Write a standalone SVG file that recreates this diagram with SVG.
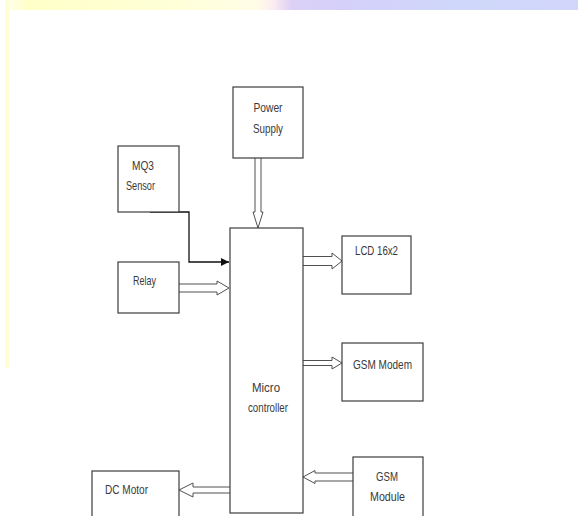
<svg xmlns="http://www.w3.org/2000/svg" width="578" height="516" viewBox="0 0 578 516">
<defs>
<linearGradient id="topbar" x1="0" y1="0" x2="1" y2="0">
<stop offset="0" stop-color="#fffff0"/>
<stop offset="0.04" stop-color="#ffffc8"/>
<stop offset="0.3" stop-color="#ffffd8"/>
<stop offset="0.44" stop-color="#fffde6"/>
<stop offset="0.47" stop-color="#fbeaf0"/>
<stop offset="0.5" stop-color="#dcd0f6"/>
<stop offset="0.6" stop-color="#d4d0fa"/>
<stop offset="0.8" stop-color="#cfd8fa"/>
<stop offset="1" stop-color="#d2d6fa"/>
</linearGradient>
<marker id="solid" viewBox="0 0 10 10" refX="10" refY="5" markerWidth="8" markerHeight="8" markerUnits="userSpaceOnUse" orient="auto">
<path d="M0,0 L10,5 L0,10 Z" fill="#111"/>
</marker>
</defs>
<style>
.box{fill:#fff;stroke:#3c3c3c;stroke-width:1.2}
.lbl{font-family:"Liberation Sans Narrow","Liberation Sans",Arial,sans-serif;font-size:13px;fill:#3a3a3a;text-anchor:middle}
.ha{fill:#fff;stroke:#505050;stroke-width:1}
.ln{fill:none;stroke:#111;stroke-width:1.3}
</style>
<rect width="578" height="516" fill="#fff"/>
<rect x="5" y="0" width="573" height="10" fill="url(#topbar)"/>
<rect x="5" y="0" width="4" height="368" fill="#ffffd6"/>

<g id="connectors">
<path class="ha" d="M255,158 L255,212 L253,212 L258,228 L263,212 L261,212 L261,158"/>
<polyline class="ln" points="150,212 189,212 189,262 229,262" marker-end="url(#solid)"/>
<path class="ha" d="M179,284 L217,284 L217,281 L229,288 L217,295 L217,292 L179,292"/>
<path class="ha" d="M303,256.5 L332,256.5 L332,253 L342,261 L332,269 L332,265.5 L303,265.5"/>
<path class="ha" d="M303,360.5 L332,360.5 L332,357 L342,363 L332,369 L332,365.5 L303,365.5"/>
<path class="ha" d="M353,473 L315,473 L315,470.5 L303,477 L315,483.5 L315,481 L353,481"/>
<path class="ha" d="M230,487 L193,487 L193,483 L179,490 L193,497 L193,493 L230,493"/>
</g>

<g id="power-supply">
<rect class="box" x="233" y="87" width="70" height="71"/>
<text class="lbl" x="268" y="112" textLength="29" lengthAdjust="spacingAndGlyphs">Power</text>
<text class="lbl" x="268" y="133" textLength="30" lengthAdjust="spacingAndGlyphs">Supply</text>
</g>
<g id="mq3-sensor">
<rect class="box" x="118" y="146" width="61" height="66"/>
<text class="lbl" x="143" y="170" textLength="22" lengthAdjust="spacingAndGlyphs">MQ3</text>
<text class="lbl" x="140.5" y="190" textLength="29" lengthAdjust="spacingAndGlyphs">Sensor</text>
</g>
<g id="relay">
<rect class="box" x="118" y="262" width="61" height="51"/>
<text class="lbl" x="144.5" y="285" textLength="23" lengthAdjust="spacingAndGlyphs">Relay</text>
</g>
<g id="microcontroller">
<rect class="box" x="230" y="228" width="73" height="285"/>
<text class="lbl" x="266" y="392" textLength="28" lengthAdjust="spacingAndGlyphs">Micro</text>
<text class="lbl" x="268" y="412" textLength="40" lengthAdjust="spacingAndGlyphs">controller</text>
</g>
<g id="lcd">
<rect class="box" x="342" y="236" width="69" height="58"/>
<text class="lbl" x="376.5" y="255" textLength="43" lengthAdjust="spacingAndGlyphs">LCD 16x2</text>
</g>
<g id="gsm-modem">
<rect class="box" x="342" y="343" width="81" height="58"/>
<text class="lbl" x="382.5" y="369" textLength="59" lengthAdjust="spacingAndGlyphs">GSM Modem</text>
</g>
<g id="gsm-module">
<rect class="box" x="353" y="457" width="70" height="70"/>
<text class="lbl" x="387" y="481" textLength="22" lengthAdjust="spacingAndGlyphs">GSM</text>
<text class="lbl" x="387.5" y="501" textLength="35" lengthAdjust="spacingAndGlyphs">Module</text>
</g>
<g id="dc-motor">
<rect class="box" x="92" y="471" width="87" height="60"/>
<text class="lbl" x="126.5" y="494" textLength="43" lengthAdjust="spacingAndGlyphs">DC Motor</text>
</g>
</svg>
